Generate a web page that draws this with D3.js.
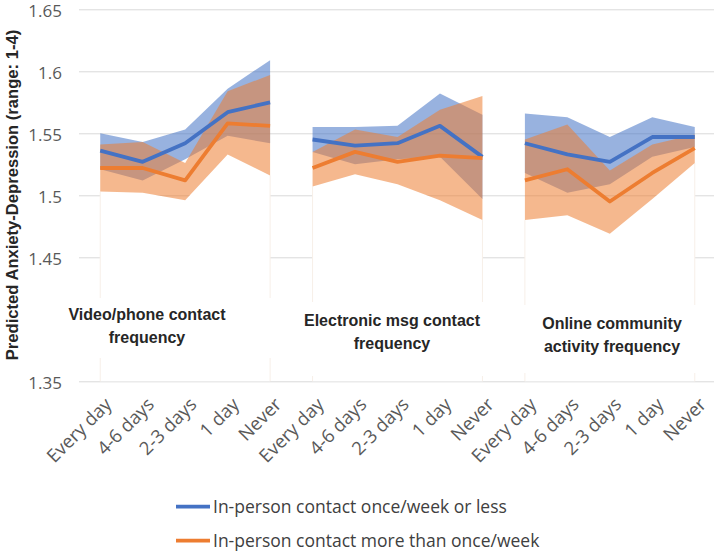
<!DOCTYPE html>
<html>
<head>
<meta charset="utf-8">
<script src="https://d3js.org/d3.v7.min.js"></script>
<style>
	body { margin: 0; background: #fff; }
	svg { display: block; }
</style>
</head>
<body>
<svg id="chart" width="717" height="553"></svg>
<script>
const categories = ['Every day', '4-6 days', '2-3 days', '1 day', 'Never'];
const panelLabels = [
	['Video/phone contact', 'frequency'],
	['Electronic msg contact', 'frequency'],
	['Online community', 'activity frequency']
];
const seriesNames = ['In-person contact once/week or less', 'In-person contact more than once/week'];
const yTicks = [1.35, 1.4, 1.45, 1.5, 1.55, 1.6, 1.65];

// once/week or less (blue): estimate and interval, 3 panels x 5 categories
const lessMean = [1.536, 1.527, 1.542, 1.567, 1.575,  1.545, 1.540, 1.542, 1.556, 1.531,  1.542, 1.533, 1.527, 1.547, 1.547];
const lessHi   = [1.550, 1.543, 1.553, 1.586, 1.609,  1.555, 1.555, 1.556, 1.582, 1.565,  1.566, 1.563, 1.547, 1.563, 1.555];
const lessLo   = [1.521, 1.512, 1.529, 1.548, 1.542,  1.535, 1.525, 1.529, 1.531, 1.497,  1.518, 1.502, 1.509, 1.531, 1.539];
// more than once/week (orange)
const moreMean = [1.522, 1.522, 1.512, 1.558, 1.556,  1.522, 1.535, 1.527, 1.532, 1.530,  1.512, 1.521, 1.495, 1.518, 1.538];
const moreHi   = [1.541, 1.543, 1.526, 1.584, 1.597,  1.535, 1.553, 1.547, 1.569, 1.580,  1.545, 1.557, 1.520, 1.541, 1.549];
const moreLo   = [1.503, 1.502, 1.496, 1.533, 1.516,  1.507, 1.517, 1.509, 1.496, 1.480,  1.480, 1.484, 1.469, 1.497, 1.526];

const blue = '#4472C4';
const orange = '#ED7D31';

const svg = d3.select('svg#chart');
const left = 79, right = 716, gridRight = 714;
const keys = d3.range(categories.length * panelLabels.length);
const x = d3.scalePoint(keys, [left, right]).padding(0.5);
const y = d3.scaleLinear([1.35, 1.65], [381.3, 9.3]);

// gridlines + tick labels
const yAxis = svg.append('g')
	.attr('transform', `translate(${left},0)`)
	.call(d3.axisLeft(y).tickValues(yTicks).tickSize(-(gridRight - left)).tickPadding(17)
		.tickFormat(d => String(+d.toFixed(2))));
yAxis.select('.domain').remove();
yAxis.selectAll('line').attr('stroke', '#d9d9d9').attr('stroke-width', 1);
yAxis.selectAll('text')
	.attr('fill', '#595959')
	.attr('dy', '0.4em')
	.style('font-family', '"Open Sans", sans-serif')
	.style('font-size', '17px');

const panels = panelLabels.map((d, p) => d3.range(p * 5, p * 5 + 5));

const baseArea = d3.area()
	.x(i => x(i))
	.y0(y(1.35))
	.y1(i => y(Math.min(lessLo[i], moreLo[i])));
const bandArea = (lo, hi) => d3.area().x(i => x(i)).y0(i => y(lo[i])).y1(i => y(hi[i]));
const meanLine = vals => d3.line().x(i => x(i)).y(i => y(vals[i]));

const g = svg.append('g');
panels.forEach(idx => {
	g.append('path').datum(idx).attr('d', baseArea).attr('fill', '#fff');
	[idx[0], idx[idx.length - 1]].forEach(i => {
		g.append('line')
			.attr('x1', x(i)).attr('x2', x(i))
			.attr('y1', y(1.35)).attr('y2', y(Math.min(lessLo[i], moreLo[i])))
			.attr('stroke', '#f7efe8').attr('stroke-width', 1);
	});
});
panels.forEach(idx => {
	g.append('path').datum(idx).attr('d', bandArea(lessLo, lessHi)).attr('fill', blue).attr('fill-opacity', 0.55);
	g.append('path').datum(idx).attr('d', bandArea(moreLo, moreHi)).attr('fill', orange).attr('fill-opacity', 0.55);
});
panels.forEach(idx => {
	g.append('path').datum(idx).attr('d', meanLine(lessMean))
		.attr('fill', 'none').attr('stroke', blue).attr('stroke-width', 3.8).attr('stroke-linejoin', 'round');
});
panels.forEach(idx => {
	g.append('path').datum(idx).attr('d', meanLine(moreMean))
		.attr('fill', 'none').attr('stroke', orange).attr('stroke-width', 3.8).attr('stroke-linejoin', 'round');
});

// panel text boxes
const boxes = [
	{ x: 30, y: 298, w: 252, h: 60, cx: 147, base: 320 },
	{ x: 282, y: 302, w: 230, h: 74, cx: 392, base: 326 },
	{ x: 500, y: 305, w: 216, h: 68, cx: 612, base: 329 }
];
boxes.forEach((b, p) => {
	svg.append('rect').attr('x', b.x).attr('y', b.y).attr('width', b.w).attr('height', b.h).attr('fill', '#fff');
	svg.append('text')
		.attr('text-anchor', 'middle')
		.attr('fill', '#262626')
		.style('font-family', '"Liberation Sans", Arial, sans-serif')
		.style('font-weight', 'bold')
		.style('font-size', '16px')
		.selectAll('tspan').data(panelLabels[p]).join('tspan')
		.attr('x', b.cx)
		.attr('y', (d, i) => b.base + i * 23)
		.text(d => d);
});

// category labels
svg.append('g').selectAll('text').data(keys).join('text')
	.attr('transform', i => `translate(${x(i) + 8},${401}) rotate(-45)`)
	.attr('text-anchor', 'end')
	.attr('dy', '0.35em')
	.attr('fill', '#595959')
	.style('font-family', '"Open Sans", sans-serif')
	.style('font-size', '18.5px')
	.text(i => categories[i % categories.length]);

// legend
const legend = svg.append('g');
[blue, orange].forEach((c, i) => {
	const ly = 506.7 + i * 34;
	legend.append('line').attr('x1', 176).attr('x2', 210).attr('y1', ly).attr('y2', ly)
		.attr('stroke', c).attr('stroke-width', 3.8);
	legend.append('text').attr('x', 213).attr('y', ly).attr('dy', '0.35em')
		.attr('fill', '#404040')
		.style('font-family', '"Open Sans", sans-serif')
		.style('font-size', '17.5px')
		.text(seriesNames[i]);
});

// y title
svg.append('text')
	.attr('transform', 'translate(18,195) rotate(-90)')
	.attr('text-anchor', 'middle')
	.attr('fill', '#262626')
	.style('font-family', '"Liberation Sans", Arial, sans-serif')
	.style('font-weight', 'bold')
	.style('font-size', '16.6px')
	.text('Predicted Anxiety-Depression (range: 1-4)');
</script>
</body>
</html>
